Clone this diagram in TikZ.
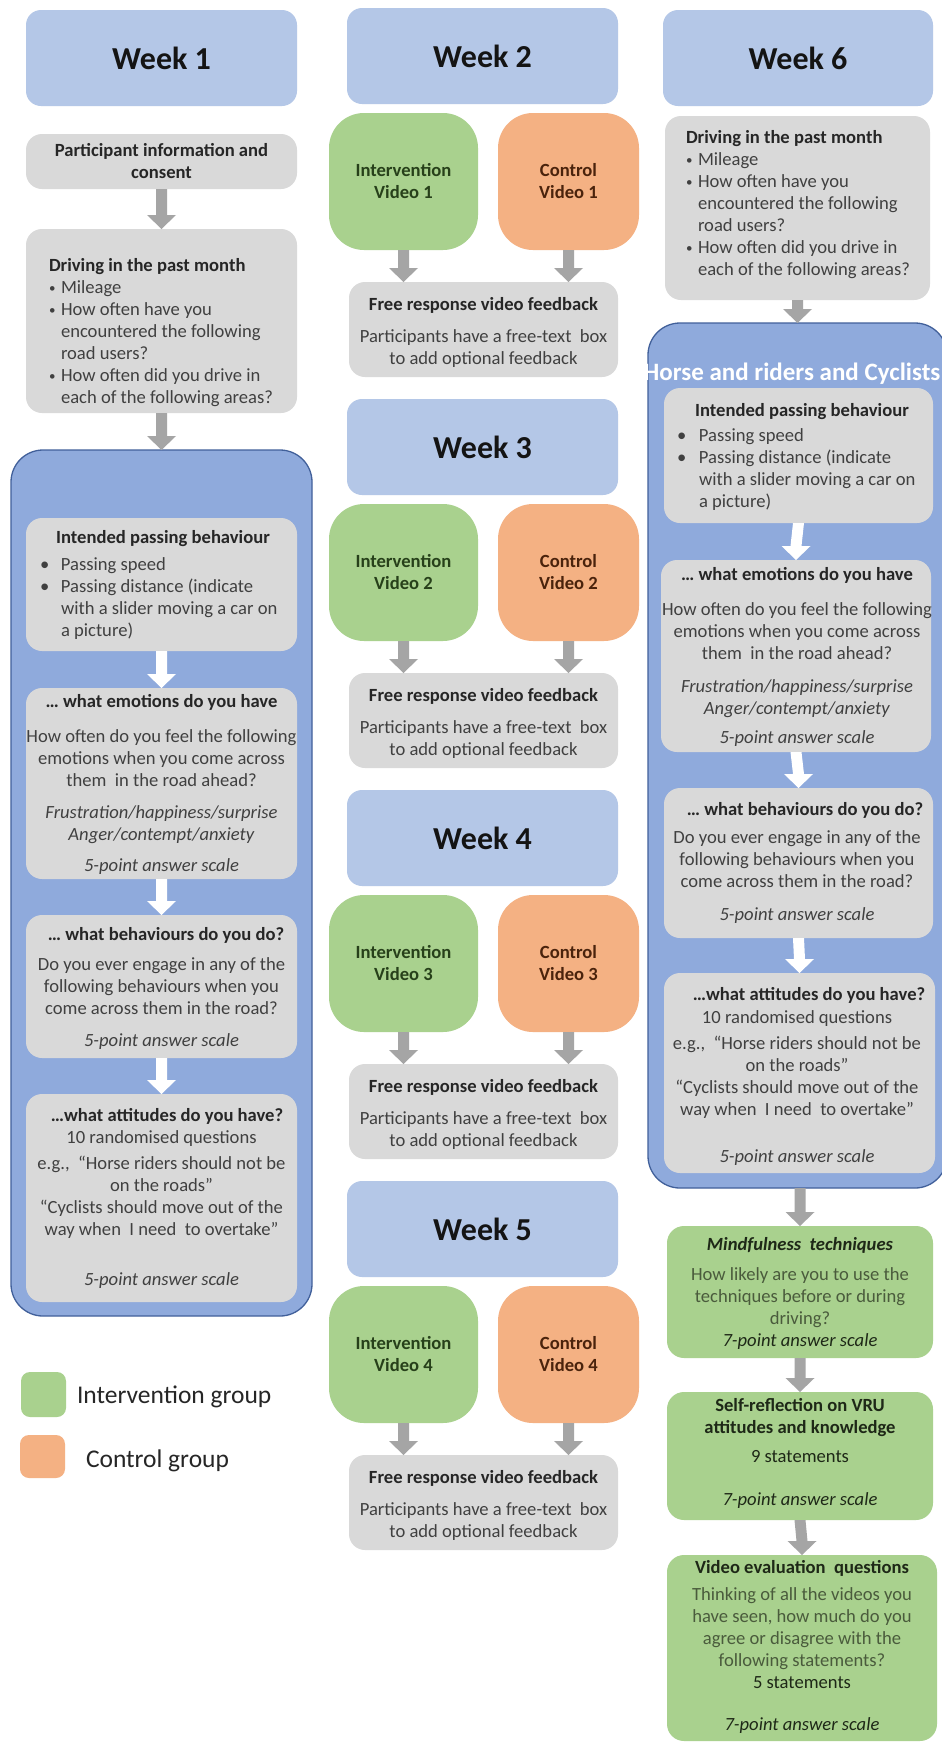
\documentclass[tikz,border=0pt]{standalone}
\usepackage{fontspec}
\setmainfont{Carlito}
\usetikzlibrary{calc}
\definecolor{weekblue}{HTML}{B4C7E7}
\definecolor{contblue}{HTML}{8FAADC}
\definecolor{contedge}{HTML}{41609A}
\definecolor{boxgray}{HTML}{D9D9D9}
\definecolor{grn}{HTML}{A9D18E}
\definecolor{org}{HTML}{F4B183}
\definecolor{arrgray}{HTML}{A5A5A5}
\definecolor{titlecol}{HTML}{262626}
\definecolor{bodycol}{HTML}{404040}
\definecolor{weekcol}{HTML}{141414}
\definecolor{intcol}{HTML}{27401A}
\definecolor{concol}{HTML}{4A230C}
\definecolor{gbody}{HTML}{4A5B3C}
\definecolor{gtitle}{HTML}{1E2817}

\newcommand\fbody{\fontsize{18.6}{22}\selectfont}
\newcommand\fweek{\fontsize{32}{38}\selectfont\bfseries}
\newcommand\mystrut{\rule{0pt}{14pt}}
\newcommand\mybul{\makebox[12pt][l]{\hspace*{0.2pt}{\fontsize{13}{13}\selectfont\raisebox{0.6pt}{•}}}}
\newcommand\myind{\hspace*{12pt}}
\newcommand\mybox[6]{\node[#1, anchor=north west, minimum width={((#5)-(#3))*1pt}, minimum height={((#6)-(#4))*1pt}] (#2) at (#3,#4) {};}
\newcommand\blockarrow[3][arrgray]{\fill[#1] ($(#2)+(-5.5,0)$) -- ($(#3)+(-5.5,-14)$) -- ($(#3)+(-14.5,-14)$) -- (#3) -- ($(#3)+(14.5,-14)$) -- ($(#3)+(5.5,-14)$) -- ($(#2)+(5.5,0)$) -- cycle;}

\tikzset{
  base/.style={inner sep=0pt, outer sep=0pt},
  weekbox/.style={base, fill=weekblue, rounded corners=15pt},
  graybox/.style={base, fill=boxgray, rounded corners=16pt},
  contbox/.style={base, fill=contblue, draw=contedge, line width=1.3pt, rounded corners=32pt},
  grnvid/.style={base, fill=grn, rounded corners=35pt},
  orgvid/.style={base, fill=org, rounded corners=35pt},
  grnbox/.style={base, fill=grn, rounded corners=17pt},
  legbox/.style={base, rounded corners=9pt},
  weektxt/.style={base, font=\fweek, text=weekcol},
  vidtxt/.style={base, align=center, font=\fontsize{18.6}{22}\selectfont\bfseries},
  txt/.style={base, align=center, font=\fbody, text=bodycol},
  ttl/.style={base, align=center, font=\fbody\bfseries, text=titlecol},
  gtxt/.style={base, align=center, font=\fbody, text=gbody},
  legtxt/.style={base, anchor=base west, font=\fontsize{25.5}{30}\selectfont, text=titlecol},
}

\begin{document}
\begin{tikzpicture}[x=1pt, y=-1pt]
\useasboundingbox (0,0) rectangle (942,1743);
\fill[white] (0,0) rectangle (942,1743);

% ---------------- Column 1 ----------------
\mybox{weekbox}{w1}{26}{10}{297}{106}
\node[weektxt] (w1t) at (w1.center) {Week 1};
\mybox{graybox}{p1}{26}{134}{297}{189}
\node[ttl] (p1t) at (p1.center) {Participant information and\\consent};
\mybox{graybox}{d1}{26}{229}{297}{413}
\node[txt, align=left, anchor=north west] (d1t) at (49,257) {\mystrut\textcolor{titlecol}{\textbf{Driving in the past month}}\\
\mybul Mileage\\
\mybul How often have you\\
\myind encountered the following\\
\myind road users?\\
\mybul How often did you drive in\\
\myind each of the following areas?};

\mybox{contbox}{c1}{11}{450}{312}{1316}

\mybox{graybox}{i1}{26}{518}{297}{651}
\node[ttl, anchor=north] (i1h) at (163,529) {\mystrut Intended passing behaviour};
\node[txt, align=left, anchor=north west] (i1l) at (40,556) {\mystrut\makebox[21pt][l]{•}Passing speed\\
\makebox[21pt][l]{•}Passing distance (indicate\\
\hspace*{21pt}with a slider moving a car on\\
\hspace*{21pt}a picture)};

\mybox{graybox}{e1}{26}{688}{297}{879}
\node[txt, anchor=north] (e1t) at (161.5,693) {\mystrut\textcolor{titlecol}{\textbf{… what emotions do you have}}\\[13pt]
How often do you feel the following\\
emotions when you come across\\
them\ \ in the road ahead?\\[10pt]
\textit{Frustration/happiness/surprise}\\
\textit{Anger/contempt/anxiety}\\[9pt]
\textit{5-point answer scale}};

\mybox{graybox}{b1}{26}{915}{297}{1058}
\node[ttl, anchor=north] (b1h) at (166,926) {\mystrut … what behaviours do you do?};
\node[txt, anchor=north] (b1t) at (161.5,956) {\mystrut Do you ever engage in any of the\\
following behaviours when you\\
come across them in the road?\\[10pt]
\textit{5-point answer scale}};

\mybox{graybox}{a1}{26}{1094}{297}{1302}
\node[ttl, anchor=north] (a1h) at (167,1107) {\mystrut …what attitudes do you have?};
\node[txt, anchor=north] (a1t) at (161.5,1129) {\mystrut 10 randomised questions\\[4pt]
e.g.,\ \ “Horse riders should not be\\
on the roads”\\
“Cyclists should move out of the\\
way when\ \ I need\ \ to overtake”\\[28pt]
\textit{5-point answer scale}};

\blockarrow{p1.south}{d1.north}
\blockarrow{d1.south}{c1.north}
\blockarrow[white]{i1.south}{e1.north}
\blockarrow[white]{e1.south}{b1.north}
\blockarrow[white]{b1.south}{a1.north}

% legend
\mybox{legbox, fill=grn}{lg1}{21}{1372}{66}{1417}
\node[legtxt] (lg1t) at (77,1403) {Intervention group};
\mybox{legbox, fill=org}{lg2}{20}{1435}{65}{1478}
\node[legtxt] (lg2t) at (86,1467) {Control group};

% ---------------- Column 2 ----------------
\foreach \k in {2,3,4,5}{
  \pgfmathsetmacro\t{8+391*(\k-2)}
  \pgfmathtruncatemacro\v{\k-1}
  \mybox{weekbox}{wk\k}{347}{\t}{618}{\t+96}
  \node[weektxt] (wkt\k) at (wk\k.center) {Week \k};
  \mybox{grnvid}{iv\k}{329}{\t+105}{478}{\t+242}
  \node[vidtxt, text=intcol] (ivt\k) at (iv\k.center) {Intervention\\Video \v};
  \mybox{orgvid}{cv\k}{498}{\t+105}{639}{\t+242}
  \node[vidtxt, text=concol] (cvt\k) at (cv\k.center) {Control\\Video \v};
  \mybox{graybox}{fb\k}{349}{\t+274}{618}{\t+369}
  \node[txt, anchor=north] (fbt\k) at (483.5,\t+288) {\mystrut\textcolor{titlecol}{\textbf{Free response video feedback}}\\[10pt]
  Participants have a free-text\ \ box\\
  to add optional feedback};
  \coordinate (ia\k) at (iv\k.south |- fb\k.north);
  \coordinate (ca\k) at (cv\k.south |- fb\k.north);
  \blockarrow{iv\k.south}{ia\k}
  \blockarrow{cv\k.south}{ca\k}
}

% ---------------- Column 3 ----------------
\mybox{weekbox}{w6}{663}{10}{933}{106}
\node[weektxt] (w6t) at (w6.center) {Week 6};
\mybox{graybox}{d6}{665}{116}{930}{300}
\node[txt, align=left, anchor=north west] (d6t) at (686,129) {\mystrut\textcolor{titlecol}{\textbf{Driving in the past month}}\\
\mybul Mileage\\
\mybul How often have you\\
\myind encountered the following\\
\myind road users?\\
\mybul How often did you drive in\\
\myind each of the following areas?};

\mybox{contbox}{c6}{648}{323}{947}{1188}
\node[base, anchor=base, font=\fontsize{25}{30}\selectfont\bfseries, text=white] (c6t) at (792,380) {Horse and riders and Cyclists};

\mybox{graybox}{i6}{664}{388}{933}{523}
\node[ttl, anchor=north] (i6h) at (802,402) {\mystrut Intended passing behaviour};
\node[txt, align=left, anchor=north west] (i6l) at (677,427) {\mystrut\makebox[22pt][l]{•}Passing speed\\
\makebox[22pt][l]{•}Passing distance (indicate\\
\hspace*{22pt}with a slider moving a car on\\
\hspace*{22pt}a picture)};

\mybox{graybox}{e6}{661}{560}{931}{752}
\node[txt, anchor=north] (e6t) at (797,566) {\mystrut\textcolor{titlecol}{\textbf{… what emotions do you have}}\\[13pt]
How often do you feel the following\\
emotions when you come across\\
them\ \ in the road ahead?\\[11pt]
\textit{Frustration/happiness/surprise}\\
\textit{Anger/contempt/anxiety}\\[7pt]
\textit{5-point answer scale}};

\mybox{graybox}{b6}{664}{788}{933}{938}
\node[ttl, anchor=north] (b6h) at (805,801) {\mystrut … what behaviours do you do?};
\node[txt, anchor=north] (b6t) at (797,829) {\mystrut Do you ever engage in any of the\\
following behaviours when you\\
come across them in the road?\\[11pt]
\textit{5-point answer scale}};

\mybox{graybox}{a6}{664}{973}{935}{1173}
\node[ttl, anchor=north] (a6h) at (809,986) {\mystrut …what attitudes do you have?};
\node[txt, anchor=north] (a6t) at (797,1009) {\mystrut 10 randomised questions\\[4pt]
e.g.,\ \ “Horse riders should not be\\
on the roads”\\
“Cyclists should move out of the\\
way when\ \ I need\ \ to overtake”\\[25pt]
\textit{5-point answer scale}};

\mybox{grnbox}{m6}{667}{1226}{933}{1358}
\node[gtxt, anchor=north] (m6t) at (800,1236) {\mystrut\textcolor{gtitle}{\textbf{\textit{Mindfulness\ \ techniques}}}\\[8pt]
How likely are you to use the\\
techniques before or during\\
driving?\\
\textcolor{gtitle}{\textit{7-point answer scale}}};

\mybox{grnbox}{s6}{667}{1392}{933}{1520}
\node[gtxt, anchor=north] (s6t) at (800,1397) {\mystrut\textcolor{gtitle}{\textbf{Self-reflection on VRU}}\\
\textcolor{gtitle}{\textbf{attitudes and knowledge}}\\[7pt]
\textcolor{gtitle}{9 statements}\\[21pt]
\textcolor{gtitle}{\textit{7-point answer scale}}};

\mybox{grnbox}{v6}{667}{1555}{937}{1741}
\node[gtxt, anchor=north] (v6t) at (802,1559) {\mystrut\textcolor{gtitle}{\textbf{Video evaluation\ \ questions}}\\[5pt]
Thinking of all the videos you\\
have seen, how much do you\\
agree or disagree with the\\
following statements?\\
\textcolor{gtitle}{5 statements}\\[20pt]
\textcolor{gtitle}{\textit{7-point answer scale}}};

\blockarrow{d6.south}{c6.north}
\blockarrow[white]{i6.south}{e6.north}
\blockarrow[white]{e6.south}{b6.north}
\blockarrow[white]{b6.south}{a6.north}
\coordinate (c6out) at (m6.north |- c6.south);
\blockarrow{c6out}{m6.north}
\blockarrow{m6.south}{s6.north}
\blockarrow{s6.south}{v6.north}
\end{tikzpicture}
\end{document}
